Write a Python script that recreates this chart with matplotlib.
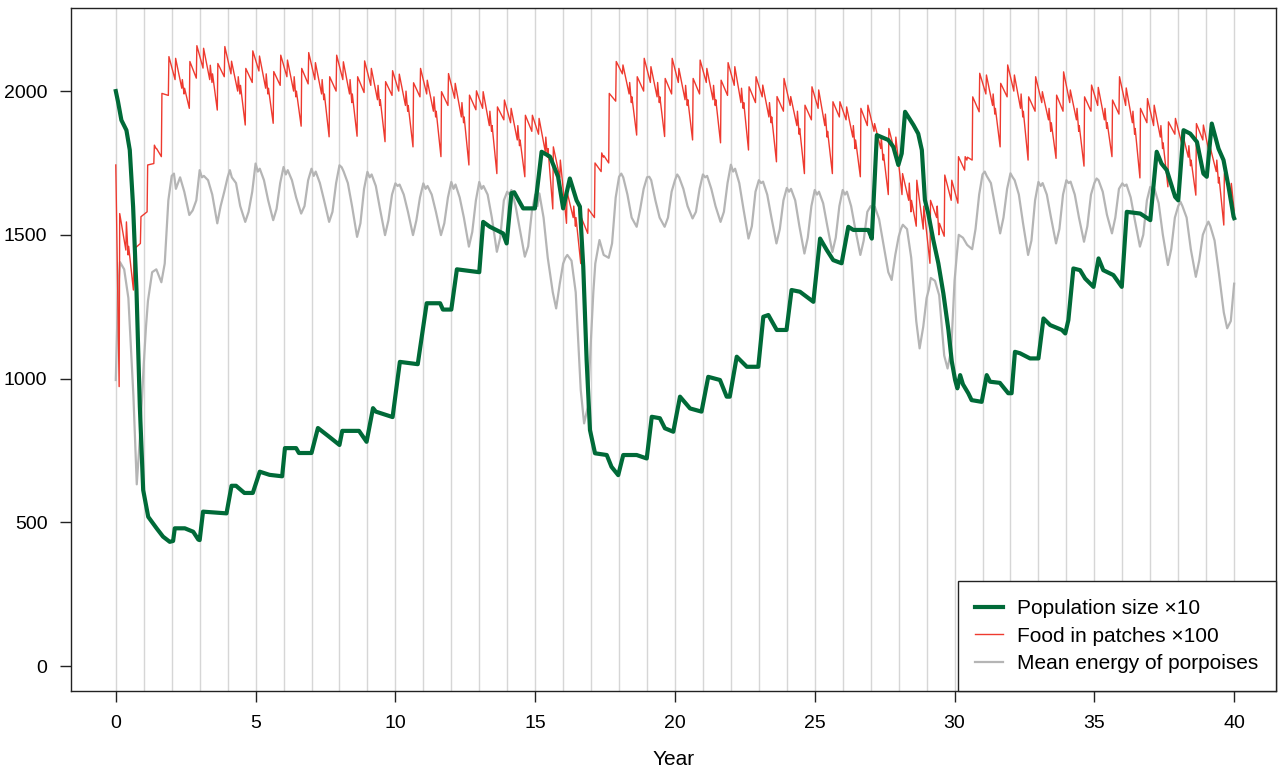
import matplotlib
matplotlib.use("Agg")
import matplotlib.pyplot as plt

plt.rcParams['font.family'] = ['Liberation Sans', 'DejaVu Sans']

# ---------------------------------------------------------------
# Population size (x10), read year by year
# ---------------------------------------------------------------
pop_t = [0.00, 0.08, 0.20, 0.38, 0.50, 0.62, 0.74, 0.86, 0.98, 1.16,
         1.46, 1.69, 1.93, 2.05, 2.11, 2.47, 2.77, 2.95, 3.00, 3.12,
         3.96, 4.14, 4.30, 4.60, 4.90, 5.15, 5.50, 5.95, 6.05, 6.45,
         6.55, 7.00, 7.23, 7.60, 8.00, 8.10, 8.70, 8.97, 9.20, 9.30,
         9.90, 10.16, 10.80, 11.12, 11.60, 11.70, 12.00, 12.20, 13.00, 13.14,
         13.38, 13.85, 13.98, 14.15, 14.25, 14.57, 14.99, 15.23, 15.53, 15.82,
         16.00, 16.24, 16.48, 16.60, 16.72, 16.84, 16.96, 17.14, 17.56, 17.73,
         17.97, 18.15, 18.63, 18.99, 19.17, 19.46, 19.64, 19.94, 20.18, 20.54,
         20.95, 21.19, 21.61, 21.85, 21.96, 22.21, 22.57, 22.98, 23.16, 23.34,
         23.64, 23.99, 24.17, 24.47, 24.95, 25.19, 25.43, 25.66, 25.96, 26.20,
         26.38, 26.92, 27.04, 27.22, 27.63, 27.81, 27.99, 28.11, 28.23, 28.53,
         28.70, 28.83, 28.94, 29.06, 29.24, 29.42, 29.60, 29.78, 29.90, 30.02,
         30.10, 30.20, 30.30, 30.49, 30.61, 30.97, 31.15, 31.27, 31.62, 31.92,
         32.04, 32.16, 32.34, 32.70, 33.00, 33.18, 33.42, 33.84, 33.96, 34.07,
         34.25, 34.49, 34.67, 34.97, 35.15, 35.32, 35.68, 35.98, 36.16, 36.64,
         37.00, 37.23, 37.40, 37.59, 37.89, 38.00, 38.19, 38.43, 38.67, 38.90,
         39.02, 39.20, 39.44, 39.62, 39.80, 39.98, 40.00]
pop_v = [2000, 1963, 1899, 1864, 1795, 1597, 1308, 902, 612, 519,
         479, 450, 432, 435, 479, 479, 467, 440, 438, 537,
         531, 627, 627, 602, 602, 676, 665, 660, 758, 758,
         741, 741, 828, 800, 769, 818, 818, 780, 897, 885,
         866, 1058, 1050, 1262, 1262, 1240, 1240, 1380, 1370, 1545,
         1528, 1505, 1470, 1645, 1648, 1592, 1592, 1789, 1772, 1702,
         1592, 1696, 1620, 1598, 1389, 1064, 821, 740, 734, 693,
         664, 734, 734, 722, 867, 862, 827, 815, 937, 896,
         885, 1006, 995, 937, 937, 1076, 1041, 1041, 1215, 1221,
         1169, 1169, 1308, 1302, 1267, 1487, 1447, 1412, 1401, 1528,
         1517, 1517, 1487, 1847, 1830, 1806, 1743, 1783, 1928, 1882,
         1852, 1795, 1621, 1574, 1482, 1401, 1296, 1169, 1060, 995,
         966, 1012, 980, 949, 925, 919, 1012, 989, 985, 949,
         949, 1093, 1088, 1070, 1070, 1209, 1186, 1169, 1157, 1203,
         1383, 1377, 1348, 1319, 1418, 1377, 1360, 1319, 1580, 1574,
         1551, 1789, 1748, 1725, 1632, 1620, 1864, 1852, 1823, 1713,
         1702, 1887, 1800, 1760, 1667, 1563, 1558]

# ---------------------------------------------------------------
# Food in patches (x100): sawtooth with fixed within-year timing.
# Each row is one cycle c; values sit at c + RED_OFFSETS
#   jump, pre-peak, peak, pre-spike, spike, dip, bump, dip, bump, trough
# ---------------------------------------------------------------
RED_OFFSETS = [-0.35, -0.12, -0.10, 0.12, 0.14, 0.36, 0.38, 0.44, 0.46, 0.63]
food_head_t = [0.00, 0.12, 0.14, 0.36, 0.38, 0.44, 0.46, 0.63]
food_head_v = [1743, 972, 1574, 1447, 1545, 1430, 1460, 1308]
food_cycles = [
    [1450, 1470, 1563, 1580, 1743, 1748, 1812, 1800, 1800, 1772],   # 1
    [1992, 1985, 2120, 2040, 2114, 2010, 2040, 1990, 2010, 1940],   # 2
    [2103, 2045, 2158, 2080, 2149, 2040, 2090, 2030, 2060, 1934],   # 3
    [2096, 2050, 2155, 2060, 2104, 2000, 2050, 1990, 2020, 1882],   # 4
    [2079, 2030, 2140, 2070, 2122, 2010, 2060, 1990, 2010, 1888],   # 5
    [2068, 2020, 2125, 2050, 2108, 2000, 2050, 1980, 2000, 1878],   # 6
    [2079, 2025, 2134, 2040, 2099, 1990, 2040, 1970, 1990, 1841],   # 7
    [2050, 2000, 2125, 2040, 2102, 1990, 2040, 1960, 1990, 1843],   # 8
    [2050, 1995, 2105, 2020, 2079, 1970, 2020, 1950, 1970, 1824],   # 9
    [2033, 1985, 2071, 2000, 2059, 1950, 2000, 1930, 1950, 1806],   # 10
    [2029, 1980, 2079, 1990, 2038, 1930, 1980, 1910, 1930, 1772],   # 11
    [1998, 1950, 2061, 1975, 2027, 1910, 1960, 1890, 1910, 1743],   # 12
    [1986, 1935, 2001, 1940, 1998, 1880, 1930, 1860, 1880, 1713],   # 13
    [1945, 1900, 1969, 1890, 1940, 1830, 1880, 1810, 1830, 1702],   # 14
    [1916, 1860, 1916, 1850, 1905, 1790, 1840, 1770, 1800, 1590],   # 15
    [1806, 1700, 1760, 1540, 1650, 1560, 1600, 1530, 1560, 1400],   # 16
    [1560, 1505, 1590, 1560, 1750, 1720, 1785, 1770, 1775, 1750],   # 17
    [1992, 1965, 2103, 2060, 2091, 1990, 2030, 1960, 1980, 1847],   # 18
    [2050, 2000, 2114, 2030, 2085, 1980, 2030, 1960, 1980, 1842],   # 19
    [2044, 1990, 2114, 2030, 2079, 1970, 2020, 1950, 1970, 1830],   # 20
    [2044, 1990, 2108, 2030, 2079, 1970, 2020, 1950, 1970, 1820],   # 21
    [2038, 1985, 2099, 2020, 2085, 1960, 2010, 1940, 1960, 1795],   # 22
    [2015, 1960, 2050, 1980, 2021, 1910, 1960, 1890, 1910, 1754],   # 23
    [1981, 1930, 2044, 1950, 1981, 1880, 1930, 1850, 1870, 1713],   # 24
    [1951, 1900, 2015, 1940, 2004, 1880, 1920, 1840, 1860, 1713],   # 25
    [1963, 1910, 1963, 1900, 1945, 1840, 1880, 1800, 1830, 1702],   # 26
    [1940, 1880, 1951, 1860, 1887, 1800, 1840, 1760, 1780, 1640],   # 27
    [1870, 1780, 1840, 1640, 1713, 1620, 1680, 1580, 1620, 1530],   # 28
    [1690, 1520, 1600, 1401, 1620, 1560, 1600, 1500, 1540, 1495],   # 29
    [1708, 1620, 1690, 1610, 1772, 1725, 1772, 1760, 1770, 1760],   # 30
    [1980, 1928, 2062, 1990, 2056, 1950, 1990, 1920, 1940, 1806],   # 31
    [2027, 1980, 2091, 2000, 2056, 1940, 1990, 1910, 1930, 1760],   # 32
    [1980, 1930, 2050, 1960, 1998, 1900, 1940, 1860, 1890, 1766],   # 33
    [1986, 1930, 2067, 1960, 2004, 1900, 1940, 1860, 1880, 1739],   # 34
    [1980, 1930, 2021, 1950, 2013, 1900, 1940, 1870, 1890, 1772],   # 35
    [1969, 1920, 2050, 1950, 2011, 1890, 1930, 1850, 1870, 1698],   # 36
    [1940, 1890, 1974, 1880, 1951, 1840, 1880, 1800, 1820, 1667],   # 37
    [1893, 1850, 1905, 1820, 1858, 1770, 1810, 1740, 1760, 1638],   # 38
    [1887, 1830, 1882, 1780, 1806, 1720, 1760, 1680, 1700, 1534],   # 39
]
food_tail_t = [39.65, 39.88, 39.90, 40.00]
food_tail_v = [1713, 1640, 1679, 1583]

# ---------------------------------------------------------------
# Mean energy of porpoises: one row per year, values at k + GRAY_PHASES
# ---------------------------------------------------------------
GRAY_PHASES = [0.0, 0.08, 0.15, 0.30, 0.45, 0.63, 0.75, 0.88]
energy_years = [
    [995, 1300, 1405, 1380, 1280, 940, 632, 820],      # 0
    [1050, 1180, 1270, 1370, 1380, 1335, 1400, 1620],  # 1
    [1705, 1713, 1660, 1700, 1650, 1569, 1585, 1620],  # 2
    [1725, 1700, 1705, 1690, 1640, 1540, 1600, 1650],  # 3
    [1700, 1725, 1700, 1680, 1600, 1545, 1580, 1650],  # 4
    [1748, 1720, 1730, 1690, 1620, 1551, 1590, 1680],  # 5
    [1736, 1710, 1725, 1690, 1630, 1574, 1600, 1690],  # 6
    [1730, 1705, 1720, 1680, 1620, 1545, 1580, 1680],  # 7
    [1742, 1735, 1720, 1680, 1600, 1493, 1540, 1660],  # 8
    [1719, 1700, 1710, 1670, 1590, 1499, 1550, 1640],  # 9
    [1679, 1670, 1675, 1640, 1580, 1499, 1550, 1630],  # 10
    [1679, 1660, 1670, 1640, 1580, 1499, 1540, 1630],  # 11
    [1684, 1660, 1675, 1630, 1560, 1459, 1510, 1620],  # 12
    [1684, 1660, 1670, 1640, 1560, 1441, 1490, 1620],  # 13
    [1650, 1640, 1656, 1600, 1520, 1424, 1460, 1580],  # 14
    [1640, 1600, 1644, 1560, 1420, 1300, 1244, 1330],  # 15
    [1400, 1420, 1430, 1410, 1300, 960, 844, 900],     # 16
    [1145, 1300, 1400, 1482, 1430, 1420, 1470, 1630],  # 17
    [1702, 1713, 1700, 1640, 1560, 1528, 1586, 1660],  # 18
    [1700, 1702, 1690, 1620, 1560, 1528, 1560, 1650],  # 19
    [1690, 1710, 1700, 1660, 1600, 1557, 1580, 1660],  # 20
    [1710, 1700, 1705, 1660, 1600, 1545, 1580, 1680],  # 21
    [1744, 1720, 1730, 1680, 1590, 1487, 1530, 1650],  # 22
    [1690, 1680, 1685, 1640, 1560, 1470, 1520, 1620],  # 23
    [1663, 1650, 1660, 1620, 1530, 1435, 1490, 1600],  # 24
    [1656, 1640, 1650, 1610, 1530, 1440, 1490, 1600],  # 25
    [1656, 1640, 1650, 1600, 1520, 1430, 1480, 1580],  # 26
    [1600, 1590, 1597, 1555, 1470, 1370, 1343, 1430],  # 27
    [1493, 1520, 1535, 1520, 1420, 1200, 1105, 1180],  # 28
    [1280, 1310, 1350, 1340, 1290, 1080, 1035, 1100],  # 29
    [1340, 1430, 1500, 1490, 1465, 1450, 1520, 1640],  # 30
    [1710, 1720, 1705, 1680, 1600, 1505, 1560, 1660],  # 31
    [1714, 1700, 1690, 1640, 1540, 1430, 1480, 1620],  # 32
    [1684, 1670, 1680, 1640, 1560, 1470, 1520, 1640],  # 33
    [1690, 1680, 1685, 1640, 1560, 1476, 1530, 1640],  # 34
    [1680, 1696, 1690, 1650, 1570, 1505, 1560, 1660],  # 35
    [1679, 1670, 1675, 1630, 1550, 1459, 1500, 1620],  # 36
    [1667, 1650, 1660, 1610, 1500, 1395, 1450, 1560],  # 37
    [1600, 1615, 1600, 1560, 1450, 1354, 1410, 1500],  # 38
    [1530, 1546, 1530, 1480, 1370, 1230, 1175, 1200],  # 39
]
energy_end_t = [40.0]
energy_end_v = [1330]

years = list(range(0, 41))
x_ticks = [0, 5, 10, 15, 20, 25, 30, 35, 40]
y_ticks = [0, 500, 1000, 1500, 2000]

# assemble the food and energy series
food_t = list(food_head_t)
food_v = list(food_head_v)
for c, row in enumerate(food_cycles, start=1):
    food_t += [c + off for off in RED_OFFSETS]
    food_v += row
food_t += food_tail_t
food_v += food_tail_v

energy_t, energy_v = [], []
for k, row in enumerate(energy_years):
    energy_t += [k + ph for ph in GRAY_PHASES]
    energy_v += row
energy_t += energy_end_t
energy_v += energy_end_v

# ---------------------------------------------------------------
# Plot
# ---------------------------------------------------------------
FS = 15

fig = plt.figure(figsize=(12.78, 7.72), dpi=100)
ax = fig.add_axes([0.0556, 0.1049, 0.9429, 0.8847])

for yr in years:
    ax.axvline(yr, color='#d6d6d6', lw=1.0, zorder=1)

ax.plot(energy_t, energy_v, color='#b5b5b5', lw=1.6, zorder=2,
        label='Mean energy of porpoises')
ax.plot(food_t, food_v, color='#ee3a2f', lw=1.0, zorder=3,
        label='Food in patches \u00d7100')
ax.plot(pop_t, pop_v, color='#006a38', lw=3.0, zorder=4,
        solid_joinstyle='round', label='Population size \u00d710')

ax.set_xlim(-1.6, 41.5)
ax.set_ylim(-87, 2289)
ax.set_xticks(x_ticks)
ax.set_yticks(y_ticks)
ax.tick_params(axis='both', direction='out', length=8, width=1,
               color='#222222', labelsize=FS - 1)
ax.tick_params(axis='x', pad=9)
ax.tick_params(axis='y', pad=9)
for sp in ax.spines.values():
    sp.set_color('#222222')
    sp.set_linewidth(1.0)
ax.set_xlabel('Year', fontsize=FS, labelpad=13)

handles, labels = ax.get_legend_handles_labels()
order = [2, 1, 0]
leg = ax.legend([handles[i] for i in order], [labels[i] for i in order],
                loc='lower right', borderaxespad=0, fancybox=False,
                framealpha=1, edgecolor='#222222', fontsize=FS,
                handlelength=1.3, handletextpad=0.7, borderpad=0.85,
                labelspacing=0.42)
leg.get_frame().set_linewidth(1.0)
leg.set_zorder(10)

fig.savefig('out.png', dpi=100)
